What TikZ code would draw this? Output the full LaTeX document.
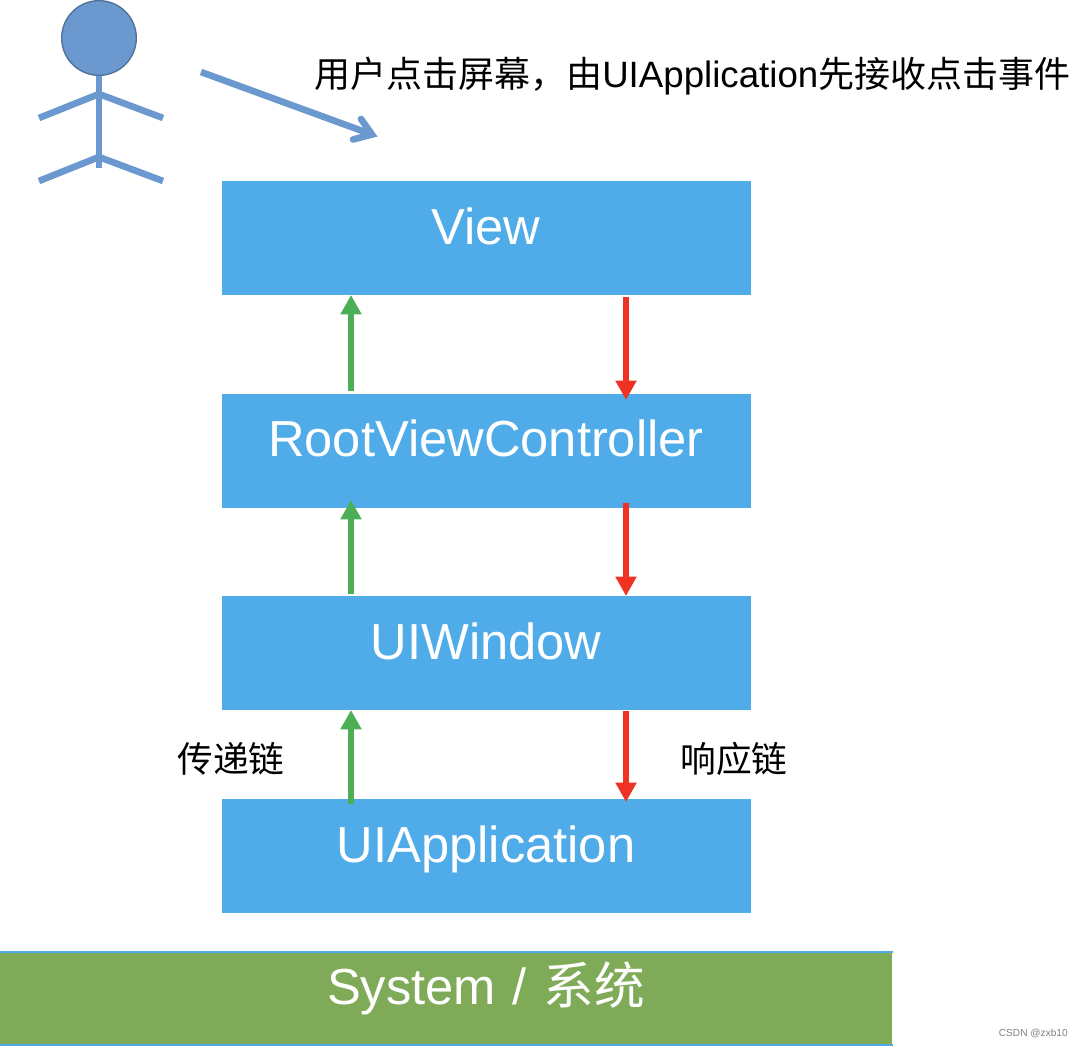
\documentclass[tikz,border=0pt]{standalone}
\usepackage{fontspec}
\setmainfont{Liberation Sans}
\newfontfamily\cjk{Noto Sans CJK SC}
\usetikzlibrary{arrows.meta}
\definecolor{boxblue}{HTML}{4FACE9}
\definecolor{sysgreen}{HTML}{7FAB58}
\definecolor{figblue}{HTML}{6A98CF}
\definecolor{figedge}{HTML}{4F7199}
\definecolor{upgreen}{HTML}{4CAF55}
\definecolor{downred}{HTML}{EE3224}
\tikzset{
  layerbox/.style={fill=boxblue,minimum width=396.75pt,minimum height=85.5pt,inner sep=0pt,anchor=north west},
  boxtext/.style={text=white,font=\fontsize{38}{42}\selectfont,inner sep=0pt,anchor=base},
  figline/.style={draw=figblue,line width=5pt},
  uparrow/.style={draw=upgreen,line width=5pt,-{Triangle[length=14.5pt,width=15pt]}},
  downarrow/.style={draw=downred,line width=5pt,-{Triangle[length=14.5pt,width=15pt]}},
  caption/.style={text=black,font=\fontsize{27.5}{31}\selectfont,inner sep=0pt,anchor=base west},
  cjktext/.style={text=black,font=\fontsize{26.8}{31}\selectfont\cjk,inner sep=0pt,anchor=base west},
}
\begin{document}
\begin{tikzpicture}[x=0.75pt,y=-0.75pt]
\useasboundingbox (0,0) rectangle (1084,1046);
% stick figure
\draw[figline] (99,76) -- (99,168);
\draw[figline] (39,118) -- (99,94) -- (163,118);
\draw[figline] (39,181) -- (99,157) -- (163,181);
\node[circle,fill=figblue,draw=figedge,line width=1pt,minimum size=56pt,inner sep=0pt] (head) at (99,38) {};
% click arrow
\coordinate (clickfrom) at (201,72);
\coordinate (clickto) at (372,134.5);
\coordinate (barba) at (353,139.5);
\coordinate (barbb) at (361,119);
\draw[figline] (clickfrom) -- (clickto);
\draw[figline,line cap=round] (barba) -- (clickto) -- (barbb);
\node[caption] (clicktext) at (314,87) {{\fontsize{27}{31}\selectfont\cjk 用户点击屏幕，由}UIApplication{\fontsize{27}{31}\selectfont\cjk 先接收点击事件}};
% boxes
\node[layerbox] (view) at (222,181) {};
\node[layerbox] (rvc) at (222,394) {};
\node[layerbox] (win) at (222,596) {};
\node[layerbox] (app) at (222,799) {};
\node[boxtext] (viewt) at (486,244) {View};
\node[boxtext] (rvct) at (486,456) {RootViewController};
\node[boxtext] (wint) at (486,659) {UIWindow};
\node[boxtext] (appt) at (486,862) {UIApplication};
% system
\node[fill=sysgreen,minimum width=669pt,minimum height=69pt,inner sep=0pt,anchor=north west] (sys) at (0,952) {};
\draw[boxblue,line width=1.5pt] (sys.north west) -- (sys.north east);
\draw[boxblue,line width=1.5pt] (sys.south west) -- (sys.south east);
\node[boxtext] (syst) at (486,1004) {System\hspace{2pt} / \hspace{2pt}{\cjk 系统}};
% arrow anchors
\coordinate (g1a) at (351,391); \coordinate (g1b) at (351,295);
\coordinate (g2a) at (351,594); \coordinate (g2b) at (351,500);
\coordinate (g3a) at (351,804); \coordinate (g3b) at (351,710);
\coordinate (r1a) at (626,297); \coordinate (r1b) at (626,400);
\coordinate (r2a) at (626,503); \coordinate (r2b) at (626,596);
\coordinate (r3a) at (626,711); \coordinate (r3b) at (626,802);
\draw[uparrow] (g1a) -- (g1b);
\draw[uparrow] (g2a) -- (g2b);
\draw[uparrow] (g3a) -- (g3b);
\draw[downarrow] (r1a) -- (r1b);
\draw[downarrow] (r2a) -- (r2b);
\draw[downarrow] (r3a) -- (r3b);
% labels
\node[cjktext] (passlabel) at (177,772) {传递链};
\node[cjktext] (resplabel) at (680,772) {响应链};
\node[text=black!50,font=\fontsize{7.6}{10}\selectfont,inner sep=0pt,anchor=base east] (mark) at (1068,1036) {CSDN @zxb10};
\end{tikzpicture}
\end{document}
